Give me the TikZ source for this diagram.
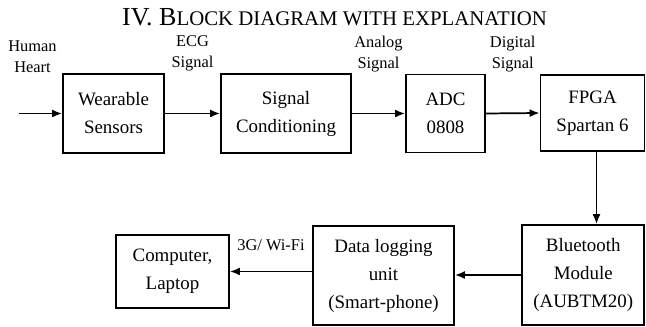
\documentclass[tikz,border=0pt]{standalone}
\usepackage{fontspec}
\setmainfont{Liberation Serif}
\newfontfamily\timesfont{Liberation Serif}
\usetikzlibrary{positioning,arrows.meta,calc}

\begin{document}
\begin{tikzpicture}[
    x=0.75pt, y=-0.75pt,
    block/.style={rectangle, draw=black, line width=1.35pt, align=center, inner sep=1pt, font=\timesfont\fontsize{14.2}{21}\selectfont},
    arrow/.style={-{Latex[length=7.5pt,width=6pt]}, line width=1.3pt},
    note/.style={align=center, inner sep=1pt, anchor=south, font=\timesfont\fontsize{12.3}{15.8}\selectfont}
]
\useasboundingbox (0,0) rectangle (646,327);

% Title
\node[anchor=base, inner sep=0pt, font=\timesfont\fontsize{19.5}{19.5}\selectfont] (title) at (334.5,26) {IV. B{\fontsize{15.6}{15.6}\selectfont LOCK DIAGRAM WITH EXPLANATION}};

% Top row
\node[block, minimum width=75.75pt, minimum height=59.25pt] (sens) at (113.5,113.5) {Wearable\\Sensors};
\node[block, minimum width=97.5pt, minimum height=59.25pt] (cond) at (286,113.5) {Signal\\Conditioning};
\node[block, minimum width=59.25pt, minimum height=58.5pt] (adc) at (445.5,113.5) {ADC\\0808};
\node[block, minimum width=78pt, minimum height=57pt] (fpga) at (592.5,113) {FPGA\\Spartan 6};

% Input
\coordinate (in) at (19,113.5);
\node[note] (heart) at (32.5,74) {Human\\Heart};
\draw[arrow] (in) -- (sens.west);

% Signals between blocks
\draw[arrow] (sens.east) -- (cond.west);
\node[note] (ecg) at ($(sens.north east)!0.5!(cond.north west)$) {ECG\\Signal};
\draw[arrow] (cond.east) -- (adc.west);
\node[note] (analog) at ($(cond.north east)!0.5!(adc.north west)$) {Analog\\Signal};
\draw[arrow] (adc.east) -- (fpga.west);
\node[note] (digital) at ($(adc.north east)!0.5!(fpga.north west)$) {Digital\\Signal};

% Bottom row
\node[block, minimum width=91.6pt, minimum height=75pt] (bt) at (583.25,275) {Bluetooth\\Module\\(AUBTM20)};
\node[block, minimum width=105.75pt, minimum height=74.3pt] (log) at (383.5,275.5) {Data logging\\unit\\(Smart-phone)};
\node[block, minimum width=84.75pt, minimum height=54.75pt] (pc) at (172.5,271.5) {Computer,\\Laptop};

\draw[arrow] ([xshift=3pt]fpga.south) -- ([xshift=3pt]fpga.south |- bt.north);
\draw[arrow] (bt.west) -- (bt.west -| log.east);
\draw[arrow] (log.west |- pc.east) -- node[note, above=14pt] (wifi) {3G/ Wi-Fi} (pc.east);

\end{tikzpicture}
\end{document}
